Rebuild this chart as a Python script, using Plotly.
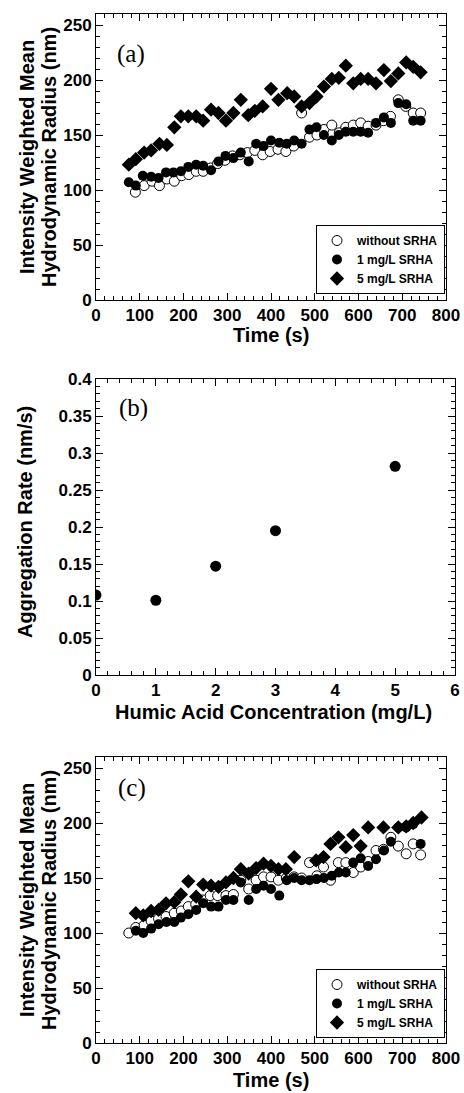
import plotly.graph_objects as go

# ---------------- Panel (a) data ----------------
A_NONE_T = [90, 110, 128, 145, 162, 179, 196, 212, 229, 245, 262, 278, 295, 312, 329, 346, 363, 381, 398, 416,
            434, 452, 470, 488, 505, 521, 539, 556, 571, 588, 605, 622, 640, 657, 673, 691, 708, 725, 742]
A_NONE_R = [98, 104, 108, 104, 110, 108, 113, 114, 117, 117, 120, 124, 127, 131, 132, 134, 136, 132, 135, 137,
            135, 140, 170, 148, 150, 155, 159, 152, 157, 159, 161, 158, 159, 163, 167, 182, 176, 170, 170]

A_ONE_T = [75, 91, 107, 126, 143, 160, 177, 194, 211, 229, 245, 263, 280, 296, 314, 331, 349, 366, 383, 400,
           419, 436, 453, 470, 488, 504, 521, 539, 555, 571, 588, 605, 622, 640, 658, 674, 691, 709, 725, 742]
A_ONE_R = [107, 104, 113, 112, 111, 116, 116, 117, 121, 123, 122, 118, 126, 131, 129, 134, 126, 142, 140, 145,
           143, 142, 145, 142, 155, 157, 150, 145, 150, 153, 153, 153, 152, 161, 166, 161, 179, 178, 163, 163]

A_FIVE_T = [75, 91, 110, 126, 145, 162, 179, 194, 211, 229, 245, 263, 280, 297, 314, 331, 348, 363, 381, 400,
            417, 437, 453, 470, 488, 504, 521, 539, 555, 571, 588, 605, 622, 640, 658, 674, 691, 709, 725, 742]
A_FIVE_R = [123, 128, 134, 136, 142, 141, 157, 167, 167, 167, 163, 173, 170, 163, 170, 182, 168, 172, 176, 192,
            182, 188, 185, 176, 179, 185, 194, 201, 202, 213, 197, 201, 201, 197, 209, 199, 206, 216, 212, 207]

# ---------------- Panel (b) data ----------------
B_CONC = [0, 1, 2, 3, 5]
B_RATE = [0.108, 0.101, 0.147, 0.195, 0.282]

# ---------------- Panel (c) data ----------------
C_NONE_T = [75, 91, 110, 126, 143, 160, 179, 195, 211, 228, 244, 261, 278, 297, 314, 331, 349, 366, 383, 400,
            417, 435, 453, 470, 488, 505, 520, 536, 554, 571, 588, 605, 622, 640, 657, 674, 691, 709, 725, 742]
C_NONE_R = [100, 105, 107, 111, 113, 115, 118, 120, 124, 126, 130, 134, 134, 134, 135, 148, 140, 148, 151, 151,
            148, 150, 151, 150, 164, 152, 160, 148, 164, 164, 155, 160, 165, 175, 176, 187, 179, 172, 181, 171]

C_ONE_T = [91, 108, 126, 143, 161, 179, 194, 211, 229, 245, 263, 280, 297, 314, 331, 349, 366, 383, 400, 419,
           436, 453, 470, 488, 504, 521, 539, 555, 571, 588, 605, 622, 640, 658, 674, 691, 709, 725, 742]
C_ONE_R = [102, 100, 104, 108, 110, 110, 114, 117, 121, 127, 124, 124, 130, 130, 146, 130, 140, 143, 140, 134,
           148, 150, 148, 148, 149, 150, 152, 155, 155, 164, 168, 161, 167, 175, 183, 196, 196, 199, 181]

C_FIVE_T = [91, 108, 126, 143, 160, 179, 194, 211, 229, 245, 263, 280, 297, 314, 331, 349, 366, 383, 400, 417,
            434, 453, 503, 520, 536, 554, 571, 588, 605, 622, 657, 691, 709, 725, 744]
C_FIVE_R = [118, 116, 120, 121, 127, 128, 135, 147, 133, 144, 143, 142, 146, 150, 158, 154, 159, 163, 161, 158,
            158, 169, 166, 169, 181, 187, 178, 189, 179, 196, 196, 196, 197, 200, 205]

SERIES_NAMES = ["without SRHA", "1 mg/L SRHA", "5 mg/L SRHA"]

W, H = 464, 1093
SANS = "Liberation Sans, Arial, sans-serif"
SERIF = "Liberation Serif, Times New Roman, serif"


def px(x):
    return x / W


def py(y):
    return 1 - y / H


def axis(domain, rng, dtick, mdtick, anchor):
    return dict(
        domain=domain, range=rng, dtick=dtick, tick0=0, autorange=False, automargin=False,
        ticks="inside", ticklen=7, tickwidth=1, tickcolor="black",
        minor=dict(dtick=mdtick, tick0=0, ticks="inside", ticklen=4, tickwidth=1, tickcolor="black",
                   showgrid=False),
        showline=True, linecolor="black", linewidth=1, mirror="ticks",
        showgrid=False, zeroline=False, anchor=anchor, fixedrange=True,
        tickfont=dict(family=SANS, size=17, color="black", weight="bold"),
    )


fig = go.Figure()

open_m = dict(symbol="circle", size=10, color="white", line=dict(color="black", width=1))
fill_m = dict(symbol="circle", size=10, color="black", line=dict(color="black", width=0))
diam_m = dict(symbol="diamond", size=11, color="black", line=dict(color="black", width=0))

# Panel (a)
fig.add_trace(go.Scatter(x=A_NONE_T, y=A_NONE_R, mode="markers", marker=open_m, name=SERIES_NAMES[0],
                         xaxis="x", yaxis="y", legend="legend"))
fig.add_trace(go.Scatter(x=A_ONE_T, y=A_ONE_R, mode="markers", marker=fill_m, name=SERIES_NAMES[1],
                         xaxis="x", yaxis="y", legend="legend"))
fig.add_trace(go.Scatter(x=A_FIVE_T, y=A_FIVE_R, mode="markers", marker=diam_m, name=SERIES_NAMES[2],
                         xaxis="x", yaxis="y", legend="legend"))

# Panel (b)
fig.add_trace(go.Scatter(x=B_CONC, y=B_RATE, mode="markers",
                         marker=dict(symbol="circle", size=11, color="black"),
                         xaxis="x2", yaxis="y2", showlegend=False))

# Panel (c)
fig.add_trace(go.Scatter(x=C_NONE_T, y=C_NONE_R, mode="markers", marker=open_m, name=SERIES_NAMES[0],
                         xaxis="x3", yaxis="y3", legend="legend2"))
fig.add_trace(go.Scatter(x=C_ONE_T, y=C_ONE_R, mode="markers", marker=fill_m, name=SERIES_NAMES[1],
                         xaxis="x3", yaxis="y3", legend="legend2"))
fig.add_trace(go.Scatter(x=C_FIVE_T, y=C_FIVE_R, mode="markers", marker=diam_m, name=SERIES_NAMES[2],
                         xaxis="x3", yaxis="y3", legend="legend2"))

legend_common = dict(
    xanchor="left", yanchor="bottom", bgcolor="white", bordercolor="black", borderwidth=1,
    font=dict(family=SANS, size=12, color="black", weight="bold"), tracegroupgap=0,
)

title_font = dict(family=SANS, size=20, color="black", weight="bold")
label_font = dict(family=SERIF, size=25, color="black")

annotations = []


def ann(text, x, y, font, angle=0):
    annotations.append(dict(text=text, x=px(x), y=py(y), xref="paper", yref="paper", showarrow=False,
                            xanchor="center", yanchor="middle", textangle=angle, font=font))


# (a)
ann("Intensity Weighted Mean", 27, 157, title_font, -90)
ann("Hydrodynamic Radius (nm)", 49, 157, title_font, -90)
ann("Time (s)", 271, 335, title_font)
ann("(a)", 131, 54, label_font)
# (b)
ann("Aggregation Rate (nm/s)", 25, 522, title_font, -90)
ann("Humic Acid Concentration (mg/L)", 273, 712, title_font)
ann("(b)", 133, 408, label_font)
# (c)
ann("Intensity Weighted Mean", 27, 900, title_font, -90)
ann("Hydrodynamic Radius (nm)", 49, 900, title_font, -90)
ann("Time (s)", 271, 1080, title_font)
ann("(c)", 132, 788, label_font)

fig.update_layout(
    template="none",
    width=W, height=H, autosize=False,
    margin=dict(l=0, r=0, t=0, b=0, autoexpand=False),
    paper_bgcolor="white", plot_bgcolor="white",
    xaxis=axis([px(96), px(446)], [0, 800], 100, 20, "y"),
    yaxis=axis([py(300), py(14)], [0, 260], 50, 10, "x"),
    xaxis2=axis([px(96), px(455)], [0, 6], 1, 0.2, "y2"),
    yaxis2=axis([py(675), py(379)], [0, 0.4], 0.05, 0.01, "x2"),
    xaxis3=axis([px(96), px(446)], [0, 800], 100, 20, "y3"),
    yaxis3=axis([py(1043), py(757)], [0, 260], 50, 10, "x3"),
    legend=dict(x=px(316), y=py(294), **legend_common),
    legend2=dict(x=px(316), y=py(1038), **legend_common),
    annotations=annotations,
    showlegend=True,
)

fig.write_html(
    "out.html",
    config={"displayModeBar": False},
    post_script="document.body.style.margin='0';document.body.style.overflow='hidden';",
)
